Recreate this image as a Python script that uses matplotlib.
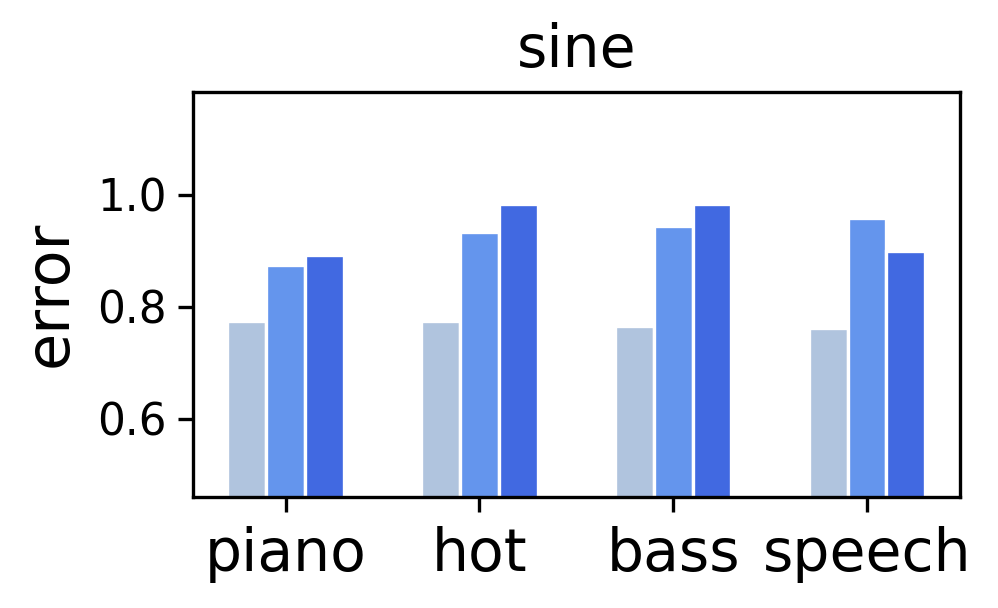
import numpy as np
import matplotlib
matplotlib.use("Agg")
import matplotlib.pyplot as plt

# values
categories = ["piano", "hot", "bass", "speech"]
series_a = [0.775, 0.775, 0.765, 0.763]
series_b = [0.875, 0.934, 0.944, 0.959]
series_c = [0.892, 0.984, 0.983, 0.899]
colors = ["lightsteelblue", "cornflowerblue", "royalblue"]

fig = plt.figure(figsize=(998 / 300, 608 / 300), dpi=300)
ax = fig.add_axes([0.193, 0.183, 0.769, 0.666])

x = np.arange(len(categories))
w = 0.2
for off, vals, c in zip((-w, 0, w), (series_a, series_b, series_c), colors):
    ax.bar(x + off, vals, width=w, color=c, edgecolor="white", linewidth=0.8)

ax.set_ylim(0.461, 1.184)
ax.set_yticks([0.6, 0.8, 1.0])
ax.set_xticks(x)
ax.set_xticklabels(categories, fontsize=14)
ax.tick_params(axis="y", labelsize=10.5, pad=2.8)
ax.set_ylabel("error", fontsize=14.5)
ax.set_title("sine", fontsize=14)

fig.savefig("out.png", dpi=300)
